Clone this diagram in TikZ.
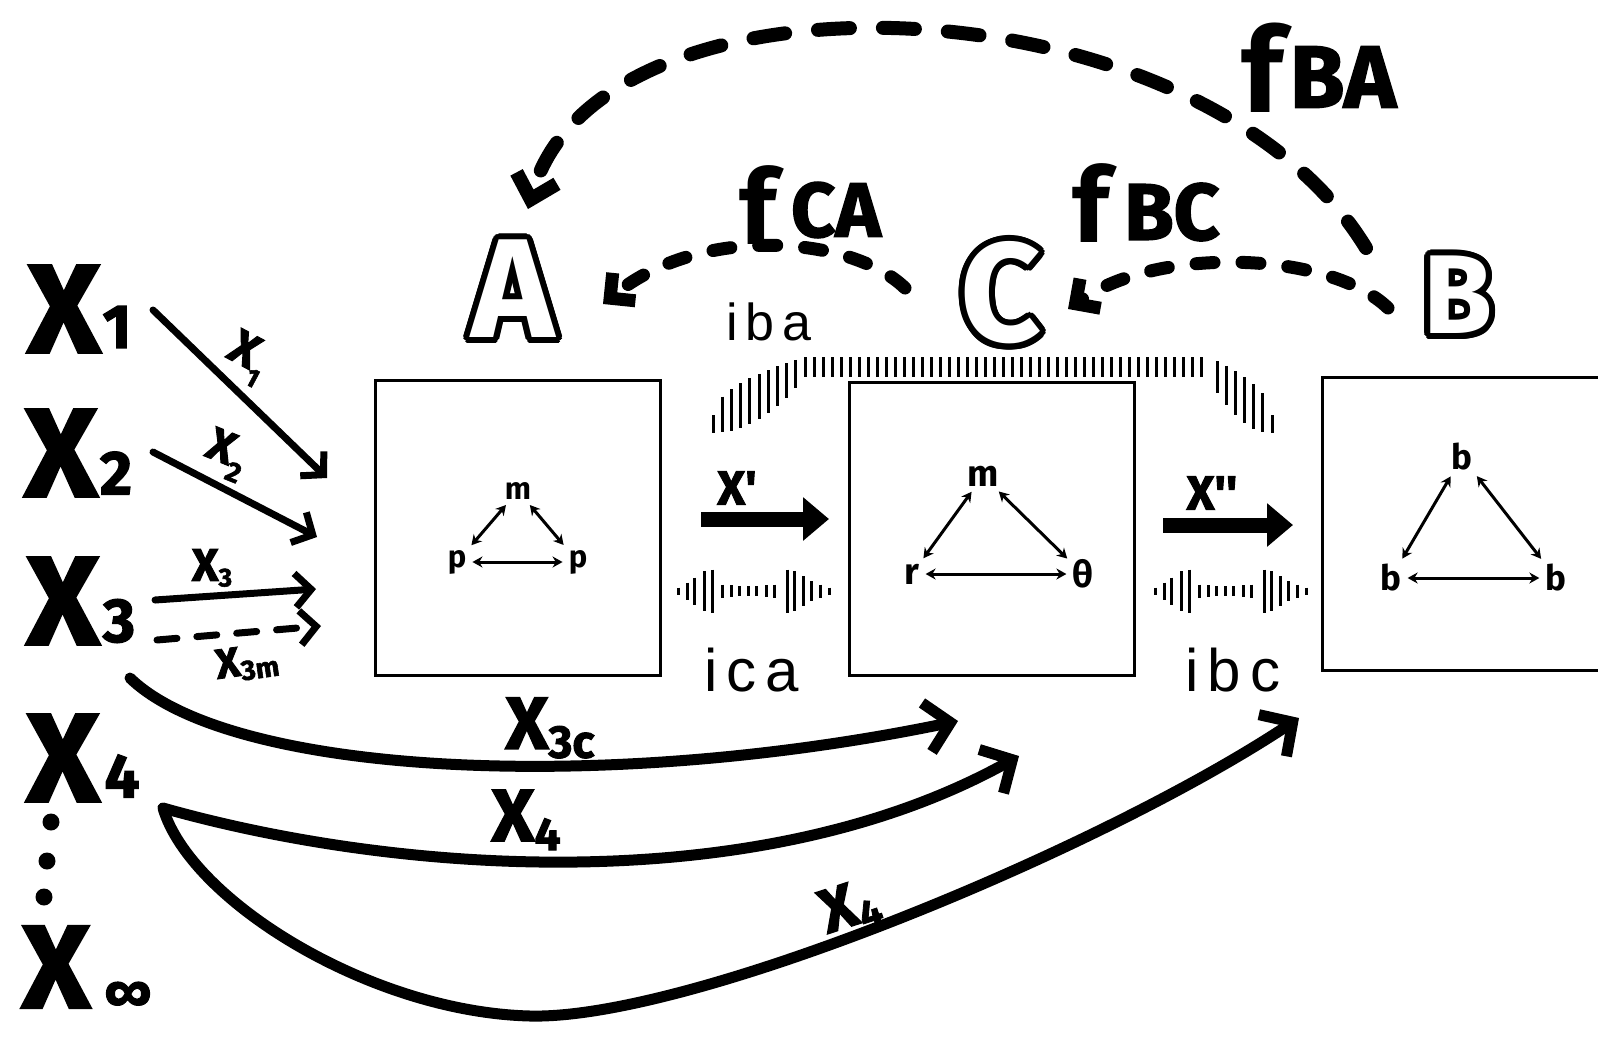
\documentclass[tikz,border=0pt]{standalone}
\usepackage{fontspec}
\setmainfont{Fira Sans}
\newfontfamily\fatfont{Fira Sans}[FakeBold=2]
\newfontfamily\plainsans{Liberation Sans}[LetterSpace=15]
\usetikzlibrary{arrows.meta}

% hollow capital: black copies around, white copy on top
\newcommand\hollowletter[4]{% name, position, size, letter
  \foreach \ang in {0,15,...,345}
    \node[inner sep=0pt, font=\bfseries\fontsize{#3}{#3}\selectfont, text=black, shift={(\ang:6)}] at #2 {#4};
  \node[inner sep=0pt, font=\bfseries\fontsize{#3}{#3}\selectfont, text=white] (#1) at #2 {#4};
}
\newcommand\lowsub[2]{\raisebox{-0.12em}{\fontsize{#1}{#1}\selectfont #2}}

\begin{document}
\begin{tikzpicture}[x=1pt,y=-1pt,
  every node/.style={inner sep=0pt},
  frame/.style={draw, line width=3pt},
  bigX/.style={font=\fatfont\bfseries\fontsize{126}{126}\selectfont},
  subX/.style={font=\fatfont\bfseries\fontsize{62}{62}\selectfont},
  hand/.style={font=\fatfont\bfseries\fontsize{#1}{#1}\selectfont},
  tallf/.style={font=\bfseries\fontsize{#1}{#1}\selectfont},
  spaced/.style={font=\plainsans\fontsize{#1}{#1}\selectfont},
  inlbl/.style={font=\bfseries\fontsize{#1}{#1}\selectfont, inner sep=3pt},
  tri/.style={line width=3pt, shorten <=3pt, shorten >=3pt,
    {Stealth[length=10pt,width=11pt]}-{Stealth[length=10pt,width=11pt]}},
  feed/.style={line width=7pt, line cap=round, -{Straight Barb[length=16pt,width=34pt]}},
  flow/.style={line width=11pt, line cap=round, line join=round, -{Straight Barb[length=24pt,width=50pt]}},
  bigdash/.style={line width=14pt, line cap=round, dash pattern=on 32pt off 33pt,
    -{Straight Barb[length=22pt,width=42pt]}},
  smalldash/.style={line width=13pt, line cap=round, dash pattern=on 18pt off 28pt,
    -{Straight Barb[length=18pt,width=36pt]}},
  thickarrow/.style={line width=15pt, -{Triangle[length=26pt,width=42pt]}},
  tick/.style={line width=3pt},
  dotn/.style={circle, fill, minimum size=17pt},
]
\useasboundingbox (0,0) rectangle (1598,1037);

% ---------- the three boxes ----------
\node[frame, minimum width=285pt, minimum height=295pt] (boxA) at (517.5,527.5) {};
\node[frame, minimum width=285pt, minimum height=293pt] (boxC) at (991.5,528.5) {};
\node[frame, minimum width=318pt, minimum height=293pt] (boxB) at (1481,523.5) {};

% box A: m, p, p
\node[inlbl=31] (mA) at (518,491) {m};
\node[inlbl=31] (pA1) at (457,562) {p};
\node[inlbl=31] (pA2) at (578,562) {p};
\draw[tri] (pA1) -- (mA);
\draw[tri] (mA) -- (pA2);
\draw[tri] (pA1) -- (pA2);

% box C: m, r, theta
\node[inlbl=37] (mC) at (983,476) {m};
\node[inlbl=37] (rC) at (912,574) {r};
\node[inlbl=37] (tC) at (1083,574) {θ};
\draw[tri] (rC) -- (mC);
\draw[tri] (mC) -- (tC);
\draw[tri] (rC) -- (tC);

% box B: b, b, b
\node[inlbl=35] (bT) at (1462,457) {b};
\node[inlbl=35] (bL) at (1391,578) {b};
\node[inlbl=35] (bR) at (1556,578) {b};
\draw[tri] (bL) -- (bT);
\draw[tri] (bT) -- (bR);
\draw[tri] (bL) -- (bR);

% ---------- hollow letters ----------
\hollowletter{A}{(513,289)}{141}{A}
\hollowletter{C}{(1001,293)}{141}{C}
\hollowletter{B}{(1458,295)}{112}{B}

% ---------- feedback arcs ----------
\coordinate (baS) at (1366,248);
\coordinate (baE) at (528,209);
\draw[bigdash] (baS) .. controls (1200,-25) and (600,-45) .. (baE);
\coordinate (caS) at (905,288);
\coordinate (caE) at (603,304);
\draw[smalldash] (caS) .. controls (850,235) and (700,225) .. (caE);
\coordinate (bcS) at (1388,308);
\coordinate (bcE) at (1068,309);
\draw[smalldash] (bcS) .. controls (1330,252) and (1160,245) .. (bcE);

\node[tallf=118] (fBAf) at (1262,68) {f};
\node[hand=88] (fBA) at (1343,77) {BA};
\node[tallf=104] (fCAf) at (758,205) {f};
\node[hand=77] (fCA) at (836,210) {CA};
\node[tallf=104] (fBCf) at (1091,203) {f};
\node[hand=80] (fBC) at (1172,212) {BC};

% ---------- interaction labels ----------
\node[spaced=52] (iba) at (769,322) {iba};
\node[spaced=60] (ica) at (752,670) {ica};
\node[spaced=60] (ibc) at (1233,670) {ibc};

% hatched bracket over box C
\foreach \x in {805,814,...,1208} \draw[tick] (\x,357) -- (\x,377);
\foreach \i in {0,...,9} {
  \pgfmathsetmacro\s{\i/10}
  \pgfmathsetmacro\xx{713+92*\s}
  \pgfmathsetmacro\ya{415-58*sqrt(\s)}
  \pgfmathsetmacro\yb{433-55*\s*\s}
  \draw[tick] (\xx,\ya) -- (\xx,\yb);
}
\foreach \i in {0,...,6} {
  \pgfmathsetmacro\s{\i/7}
  \pgfmathsetmacro\xx{1272-64*\s}
  \pgfmathsetmacro\ya{415-58*sqrt(\s)}
  \pgfmathsetmacro\yb{433-55*\s*\s}
  \draw[tick] (\xx,\ya) -- (\xx,\yb);
}

% signal bands between the boxes
\foreach \ox in {678,1155} {
  \foreach \dx/\h in {0/7,9/17,16/27,26/40,34/43,44/13,53/12,61/10,70/10,78/10,88/12,96/13,109/43,116/40,125/30,133/20,142/13,151/7}
    \draw[tick] (\ox+\dx,591-\h/2) -- (\ox+\dx,591+\h/2);
}

% ---------- transfer arrows between boxes ----------
\coordinate (p1S) at (701,519);
\coordinate (p1E) at (829,519);
\draw[thickarrow] (p1S) -- (p1E);
\node[hand=48] (xp) at (737,488) {X'};
\coordinate (p2S) at (1163,525);
\coordinate (p2E) at (1293,525);
\draw[thickarrow] (p2S) -- (p2E);
\node[hand=48] (xpp) at (1212,493) {X''};

% ---------- inputs on the left ----------
\node[bigX] (X1) at (64,309) {X};
\node[subX] (X1s) at (117,327) {1};
\node[bigX] (X2) at (61,453) {X};
\node[subX] (X2s) at (116,473) {2};
\node[bigX] (X3) at (63,601) {X};
\node[subX] (X3s) at (119,621) {3};
\node[bigX] (X4) at (63,758) {X};
\node[subX] (X4s) at (122,776) {4};
\node[dotn] (d1) at (51,822) {};
\node[dotn] (d2) at (47,861) {};
\node[dotn] (d3) at (44,897) {};
\node[bigX, font=\fatfont\bfseries\fontsize{118}{118}\selectfont] (Xinf) at (56,967) {X};
\node[subX, font=\fatfont\bfseries\fontsize{52}{52}\selectfont] (Xinfs) at (128,996) {∞};

% straight input arrows into box A
\coordinate (a1S) at (153,310);
\coordinate (a1E) at (327,478);
\draw[feed] (a1S) -- (a1E);
\node[hand=48, rotate=-28] (lx1) at (247,358) {X\raisebox{-0.3em}{\fontsize{26}{26}\selectfont 1}};
\coordinate (a2S) at (153,452);
\coordinate (a2E) at (317,537);
\draw[feed] (a2S) -- (a2E);
\node[hand=46, rotate=-22] (lx2) at (226,455) {X\raisebox{-0.3em}{\fontsize{28}{28}\selectfont 2}};
\coordinate (a3S) at (155,600);
\coordinate (a3E) at (316,589);
\draw[feed] (a3S) -- (a3E);
\node[hand=46] (lx3) at (212,568) {X\lowsub{26}{3}};
\coordinate (a4S) at (157,640);
\coordinate (a4E) at (321,626);
\draw[feed, dash pattern=on 20pt off 20pt] (a4S) -- (a4E);
\node[hand=42, rotate=8] (lx3m) at (247,663) {X\lowsub{28}{3m}};

% long curved inputs
\coordinate (c3S) at (130,678);
\coordinate (c3E) at (958,721);
\draw[flow] (c3S) .. controls (230,775) and (600,795) .. (c3E);
\node[hand=74] (lx3c) at (550,728) {X\lowsub{46}{3c}};
\coordinate (c4S) at (163,808);
\coordinate (c4E) at (1019,756);
\draw[flow] (c4S) .. controls (400,875) and (760,900) .. (c4E);
\node[hand=74] (lx4a) at (526,820) {X\lowsub{46}{4}};
\coordinate (c5E) at (1299,718);
\draw[flow] (c4S) .. controls (190,900) and (370,1012) .. (530,1016)
  .. controls (690,1020) and (1100,850) .. (c5E);
\node[hand=62, rotate=18] (lx4b) at (850,908) {X\lowsub{40}{4}};
\end{tikzpicture}
\end{document}
